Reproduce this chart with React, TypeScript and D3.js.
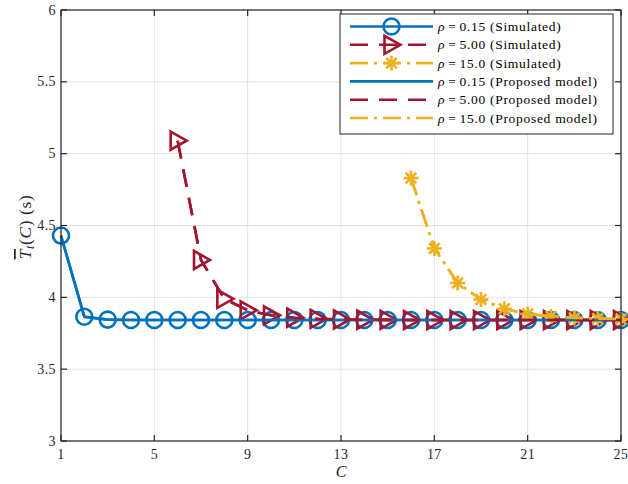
import React from "react";
import * as d3 from "d3";

// Number of channels C on the x axis
const channels = d3.range(1, 26);

// Simulated mean delay (s) for each traffic intensity
const simLow = [4.43, 3.865, 3.845, 3.842, 3.842, 3.842, 3.842, 3.842, 3.842, 3.842, 3.842, 3.842, 3.842, 3.842, 3.842, 3.842, 3.842, 3.842, 3.842, 3.842, 3.842, 3.842, 3.842, 3.842, 3.842];
const simMidC = d3.range(6, 26);
const simMid = [5.09, 4.26, 3.99, 3.91, 3.875, 3.858, 3.85, 3.846, 3.844, 3.843, 3.842, 3.842, 3.842, 3.842, 3.842, 3.842, 3.842, 3.842, 3.842, 3.842];
const simHighC = d3.range(16, 26);
const simHigh = [4.83, 4.34, 4.1, 3.985, 3.92, 3.885, 3.867, 3.857, 3.852, 3.849];

// Proposed model curves
const modelLow = [4.43, 3.865, 3.845, 3.842, 3.842, 3.842, 3.842, 3.842, 3.842, 3.842, 3.842, 3.842, 3.842, 3.842, 3.842, 3.842, 3.842, 3.842, 3.842, 3.842, 3.842, 3.842, 3.842, 3.842, 3.842];
const modelMid = [5.09, 4.26, 3.99, 3.91, 3.875, 3.858, 3.85, 3.846, 3.844, 3.843, 3.842, 3.842, 3.842, 3.842, 3.842, 3.842, 3.842, 3.842, 3.842, 3.842];
const modelHigh = [4.83, 4.34, 4.1, 3.985, 3.92, 3.885, 3.867, 3.857, 3.852, 3.849];

const xTicks = [1, 5, 9, 13, 17, 21, 25];
const yTicks = [3, 3.5, 4, 4.5, 5, 5.5, 6];
const yTickLabels = ["3", "3.5", "4", "4.5", "5", "5.5", "6"];

const legendLabels = [
  "0.15 (Simulated)",
  "5.00 (Simulated)",
  "15.0 (Simulated)",
  "0.15 (Proposed model)",
  "5.00 (Proposed model)",
  "15.0 (Proposed model)",
];

const BLUE = "#0072BD";
const RED = "#A2142F";
const YELLOW = "#EDB120";
const AXIS = "#262626";
const FONT = "'Liberation Serif', 'Times New Roman', serif";

const W = 628;
const H = 484;
const M = { left: 61, right: 621, top: 10, bottom: 441 };

const DASH = "18 11";
const DASHDOT = "18 6 3 6";

function Circle({ x, y, color }: { x: number; y: number; color: string }) {
  return <circle cx={x} cy={y} r={8} fill="none" stroke={color} strokeWidth={2.6} />;
}

function Tri({ x, y, color }: { x: number; y: number; color: string }) {
  const p = `${x - 7},${y - 9} ${x + 9},${y} ${x - 7},${y + 9}`;
  return <polygon points={p} fill="none" stroke={color} strokeWidth={2.6} strokeLinejoin="miter" />;
}

function Star({ x, y, color }: { x: number; y: number; color: string }) {
  const r = 7.5;
  const d = r * Math.SQRT1_2;
  return (
    <g stroke={color} strokeWidth={2.6}>
      <line x1={x - r} y1={y} x2={x + r} y2={y} />
      <line x1={x} y1={y - r} x2={x} y2={y + r} />
      <line x1={x - d} y1={y - d} x2={x + d} y2={y + d} />
      <line x1={x - d} y1={y + d} x2={x + d} y2={y - d} />
    </g>
  );
}

export default function App() {
  const x = d3.scaleLinear().domain([1, 25]).range([M.left, M.right]);
  const y = d3.scaleLinear().domain([3, 6]).range([M.bottom, M.top]);
  const line = d3
    .line<[number, number]>()
    .x((d) => x(d[0]))
    .y((d) => y(d[1]));

  const lowPts = channels.map((c, i) => [c, simLow[i]] as [number, number]);
  const midPts = simMidC.map((c, i) => [c, simMid[i]] as [number, number]);
  const highPts = simHighC.map((c, i) => [c, simHigh[i]] as [number, number]);
  const lowModel = channels.map((c, i) => [c, modelLow[i]] as [number, number]);
  const midModel = simMidC.map((c, i) => [c, modelMid[i]] as [number, number]);
  const highModel = simHighC.map((c, i) => [c, modelHigh[i]] as [number, number]);

  const lx0 = 350;
  const lx1 = 433;
  const rowY = (i: number) => 26.5 + i * 18.3;
  const legendStyles = [
    { color: BLUE, dash: undefined as string | undefined, marker: "o" },
    { color: RED, dash: DASH, marker: ">" },
    { color: YELLOW, dash: DASHDOT, marker: "*" },
    { color: BLUE, dash: undefined, marker: "" },
    { color: RED, dash: DASH, marker: "" },
    { color: YELLOW, dash: DASHDOT, marker: "" },
  ];

  return (
    <svg width={W} height={H} style={{ position: "absolute", left: 0, top: 0, background: "#fff" }}>
      <rect x={0} y={0} width={W} height={H} fill="#fff" />
      {/* grid */}
      <g stroke="#e3e3e3" strokeWidth={1}>
        {xTicks.map((t) => (
          <line key={"gx" + t} x1={x(t)} x2={x(t)} y1={M.top} y2={M.bottom} />
        ))}
        {yTicks.map((t) => (
          <line key={"gy" + t} x1={M.left} x2={M.right} y1={y(t)} y2={y(t)} />
        ))}
      </g>

      {/* simulated curves */}
      <path d={line(lowPts) || ""} fill="none" stroke={BLUE} strokeWidth={2.6} />
      {lowPts.map((p, i) => (
        <Circle key={"c" + i} x={x(p[0])} y={y(p[1])} color={BLUE} />
      ))}
      <path d={line(midPts) || ""} fill="none" stroke={RED} strokeWidth={2.6} strokeDasharray={DASH} />
      {midPts.map((p, i) => (
        <Tri key={"t" + i} x={x(p[0])} y={y(p[1])} color={RED} />
      ))}
      <path d={line(highPts) || ""} fill="none" stroke={YELLOW} strokeWidth={2.6} strokeDasharray={DASHDOT} />
      {highPts.map((p, i) => (
        <Star key={"s" + i} x={x(p[0])} y={y(p[1])} color={YELLOW} />
      ))}

      {/* model curves */}
      <path d={line(lowModel) || ""} fill="none" stroke={BLUE} strokeWidth={2.6} />
      <path d={line(midModel) || ""} fill="none" stroke={RED} strokeWidth={2.6} strokeDasharray={DASH} />
      <path d={line(highModel) || ""} fill="none" stroke={YELLOW} strokeWidth={2.6} strokeDasharray={DASHDOT} />

      {/* axes box */}
      <rect x={M.left} y={M.top} width={M.right - M.left} height={M.bottom - M.top} fill="none" stroke={AXIS} strokeWidth={1.2} />
      <g stroke={AXIS} strokeWidth={1.2}>
        {xTicks.map((t) => (
          <g key={"xt" + t}>
            <line x1={x(t)} x2={x(t)} y1={M.bottom} y2={M.bottom - 6} />
            <line x1={x(t)} x2={x(t)} y1={M.top} y2={M.top + 6} />
          </g>
        ))}
        {yTicks.map((t) => (
          <g key={"yt" + t}>
            <line x1={M.left} x2={M.left + 6} y1={y(t)} y2={y(t)} />
            <line x1={M.right} x2={M.right - 6} y1={y(t)} y2={y(t)} />
          </g>
        ))}
      </g>
      <g fontFamily={FONT} fontSize={14} fill={AXIS}>
        {xTicks.map((t) => (
          <text key={"xl" + t} x={x(t)} y={M.bottom + 18} textAnchor="middle" letterSpacing={0.4}>
            {t}
          </text>
        ))}
        {yTicks.map((t, i) => (
          <text key={"yl" + t} x={M.left - 5} y={y(t) + 4.5} textAnchor="end" letterSpacing={0.4}>
            {yTickLabels[i]}
          </text>
        ))}
      </g>

      {/* axis titles */}
      <text x={(M.left + M.right) / 2} y={477} textAnchor="middle" fontFamily={FONT} fontSize={16} fontStyle="italic" fill={AXIS}>
        C
      </text>
      <g transform="translate(31, 227) rotate(-90)">
        <text x={0} y={0} textAnchor="middle" fontFamily={FONT} fontSize={17.5} fill={AXIS} letterSpacing={0.6}>
          <tspan fontStyle="italic" textDecoration="overline">T</tspan>
          <tspan fontStyle="italic" fontSize={12} dy={3}>t</tspan>
          <tspan dy={-3}>(</tspan>
          <tspan fontStyle="italic">C</tspan>
          <tspan>)  (s)</tspan>
        </text>
      </g>

      {/* legend */}
      <rect x={340} y={14} width={273} height={120} fill="#fff" stroke={AXIS} strokeWidth={1} />
      {legendStyles.map((s, i) => {
        const yy = rowY(i);
        const mx = (lx0 + lx1) / 2;
        return (
          <g key={"lg" + i}>
            <line x1={lx0} x2={lx1} y1={yy} y2={yy} stroke={s.color} strokeWidth={2.6} strokeDasharray={s.dash} />
            {s.marker === "o" && <Circle x={mx} y={yy} color={s.color} />}
            {s.marker === ">" && <Tri x={mx} y={yy} color={s.color} />}
            {s.marker === "*" && <Star x={mx} y={yy} color={s.color} />}
            <text x={438} y={yy + 4.5} fontFamily={FONT} fontSize={13.5} fill="#000" letterSpacing={0.7}>
              <tspan fontStyle="italic">ρ</tspan>
              <tspan dx={3}>=</tspan>
              <tspan dx={3}>{legendLabels[i]}</tspan>
            </text>
          </g>
        );
      })}
    </svg>
  );
}
